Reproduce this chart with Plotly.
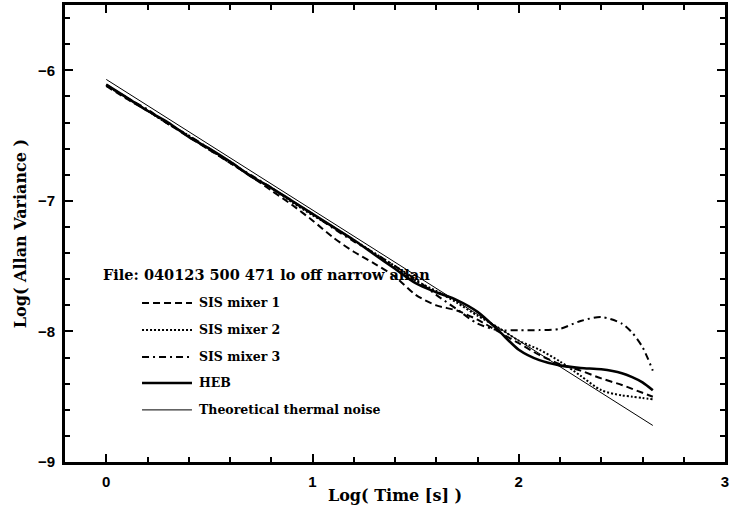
import plotly.graph_objects as go

# ---- data ----
log_time = [0.0, 0.1, 0.2, 0.3, 0.4, 0.5, 0.6, 0.7, 0.8, 0.9,
            1.0, 1.1, 1.2, 1.3, 1.4, 1.5, 1.6, 1.7, 1.8, 1.9,
            2.0, 2.1, 2.2, 2.3, 2.4, 2.5, 2.55, 2.6, 2.65]

sis1 = [-6.12, -6.22, -6.31, -6.41, -6.51, -6.61, -6.71, -6.81, -6.92, -7.03,
        -7.15, -7.28, -7.39, -7.48, -7.58, -7.72, -7.80, -7.84, -7.91, -8.00,
        -8.09, -8.18, -8.25, -8.30, -8.36, -8.41, -8.44, -8.47, -8.50]

sis2 = [-6.12, -6.21, -6.31, -6.41, -6.50, -6.61, -6.70, -6.81, -6.90, -7.01,
        -7.11, -7.20, -7.30, -7.40, -7.50, -7.61, -7.69, -7.78, -7.88, -7.97,
        -8.07, -8.14, -8.23, -8.34, -8.45, -8.49, -8.50, -8.51, -8.52]

sis3 = [-6.11, -6.21, -6.30, -6.41, -6.50, -6.60, -6.71, -6.80, -6.90, -7.00,
        -7.10, -7.21, -7.31, -7.40, -7.50, -7.60, -7.72, -7.83, -7.94, -7.99,
        -7.99, -7.99, -7.98, -7.92, -7.89, -7.94, -8.01, -8.12, -8.30]

heb = [-6.11, -6.21, -6.31, -6.40, -6.51, -6.60, -6.70, -6.81, -6.90, -7.00,
       -7.10, -7.20, -7.30, -7.41, -7.52, -7.63, -7.70, -7.76, -7.85, -7.99,
       -8.14, -8.22, -8.26, -8.28, -8.29, -8.32, -8.35, -8.39, -8.45]

theory_x = [0.0, 2.65]
theory_y = [-6.07, -8.72]

series_names = ["SIS mixer 1", "SIS mixer 2", "SIS mixer 3", "HEB",
                "Theoretical thermal noise"]
legend_title = "File: 040123 500 471 lo off narrow allan"

x_ticks = [0, 1, 2, 3]
y_ticks = [-9, -8, -7, -6]
y_tick_text = ["\u22129", "\u22128", "\u22127", "\u22126"]

# ---- styles ----
styles = [
    dict(color="black", width=2, dash="7px,4px"),
    dict(color="black", width=2, dash="2px,2px"),
    dict(color="black", width=2, dash="7px,4px,2px,4px"),
    dict(color="black", width=2.6, dash="solid"),
    dict(color="black", width=1, dash="solid"),
]

fig = go.Figure()
ys = [sis1, sis2, sis3, heb]
for name, y, st in zip(series_names[:4], ys, styles[:4]):
    fig.add_trace(go.Scatter(x=log_time, y=y, mode="lines", name=name,
                             line=dict(shape="spline", smoothing=0.8, **st),
                             showlegend=False))
fig.add_trace(go.Scatter(x=theory_x, y=theory_y, mode="lines",
                         name=series_names[4], line=styles[4],
                         showlegend=False))

# ---- manual legend (paper coords) ----
serif = "DejaVu Serif"
fig.add_annotation(xref="paper", yref="paper", x=0.055, y=0.411,
                   xanchor="left", yanchor="middle", showarrow=False,
                   text=legend_title,
                   font=dict(family=serif, size=14.5, color="black", weight="bold"))
row_y = [0.348, 0.289, 0.230, 0.173, 0.114]
for name, yy, st in zip(series_names, row_y, styles):
    fig.add_shape(type="line", xref="paper", yref="paper",
                  x0=0.1167, x1=0.1924, y0=yy, y1=yy,
                  line=dict(color=st["color"], width=st["width"], dash=st["dash"]))
    fig.add_annotation(xref="paper", yref="paper", x=0.2, y=yy,
                       xanchor="left", yanchor="middle", showarrow=False,
                       text=name,
                       font=dict(family=serif, size=12.5, color="black", weight="bold"))

axis_common = dict(
    showline=True, linecolor="black", linewidth=3, mirror="allticks",
    ticks="inside", ticklen=8, tickwidth=2, tickcolor="black",
    showgrid=False, zeroline=False, automargin=False,
    tickfont=dict(family="Liberation Sans", size=15, color="black", weight="bold"),
    minor=dict(ticks="inside", ticklen=5, tickwidth=2, tickcolor="black",
               dtick=0.2, showgrid=False),
)

fig.update_xaxes(range=[-0.2, 3.0], tickvals=x_ticks,
                 title=dict(text="Log( Time [s] )", standoff=1,
                            font=dict(family=serif, size=16, color="black", weight="bold")),
                 ticklabelstandoff=4,
                 **axis_common)
fig.update_yaxes(range=[-9.0, -5.5], tickvals=y_ticks, ticktext=y_tick_text,
                 title=dict(text="Log( Allan Variance )", standoff=8,
                            font=dict(family=serif, size=16, color="black", weight="bold")),
                 ticklabelstandoff=4,
                 **axis_common)

fig.update_layout(
    width=730, height=518,
    margin=dict(l=65, r=5, t=5, b=56),
    plot_bgcolor="white", paper_bgcolor="white",
)

fig.write_html("out.html", config={"displayModeBar": False},
               post_script="document.body.style.margin='0';")
